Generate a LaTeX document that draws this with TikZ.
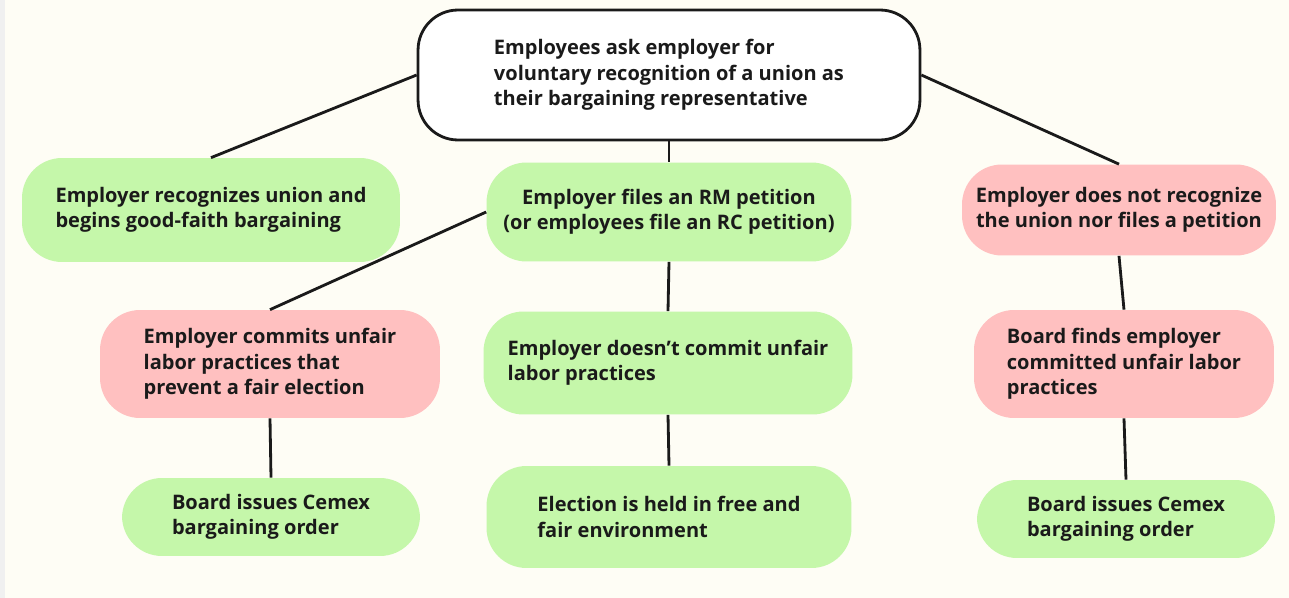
\documentclass[tikz,border=0pt]{standalone}
\usepackage{fontspec}
\setmainfont{Open Sans}[UprightFont=* Bold]
\usepackage{xcolor}

\definecolor{paper}{RGB}{254,253,245}
\definecolor{okgreen}{RGB}{197,247,170}
\definecolor{badred}{RGB}{255,192,192}
\definecolor{ink}{RGB}{26,26,26}

\begin{document}
\begin{tikzpicture}[x=0.02cm, y=-0.02cm,
    box/.style={rounded corners=0.8cm, inner sep=0pt, text=ink,
      font=\fontsize{11.4}{14.5}\selectfont},
    good/.style={box, fill=okgreen},
    bad/.style={box, fill=badred},
    link/.style={line width=1.6pt, draw=ink}]
  % Paper and page edge
  \fill[paper] (0,0) rectangle (1289,598);
  \fill[black!6] (0,0) rectangle (5,598);
  \useasboundingbox (0,0) rectangle (1289,598);

  % Question at the top
  \node[box, fill=white, draw=ink, line width=1.6pt, align=left,
    minimum width=10.04cm, minimum height=2.6cm] (ask) at (669,75)
    {Employees ask employer for\\voluntary recognition of a union as\\their bargaining representative};

  % First row of outcomes
  \node[good, align=left, minimum width=7.56cm, minimum height=2.08cm] (recog) at (211,210)
    {Employer recognizes union and\\begins good-faith bargaining};
  \node[good, align=center, minimum width=7.3cm, minimum height=1.98cm] (files) at (669,212)
    {Employer files an RM petition\\(or employees file an RC petition)};
  \node[bad, align=center, minimum width=6.28cm, minimum height=1.82cm] (refuse) at (1119,210)
    {Employer does not recognize\\the union nor files a petition};

  % Second row
  \node[bad, align=left, minimum width=6.8cm, minimum height=2.16cm] (ulp) at (270,364)
    {Employer commits unfair\\labor practices that\\prevent a fair election};
  \node[good, align=left, minimum width=7.38cm, minimum height=2.06cm] (noulp) at (668,363)
    {Employer doesn't commit unfair\\labor practices};
  \node[bad, align=left, minimum width=6.0cm, minimum height=2.16cm] (finds) at (1124,364)
    {Board finds employer\\committed unfair labor\\practices};

  % Third row
  \node[good, align=left, minimum width=5.96cm, minimum height=1.56cm] (order1) at (271,517)
    {Board issues Cemex\\bargaining order};
  \node[good, align=left, minimum width=7.3cm, minimum height=2.04cm] (vote) at (669,517)
    {Election is held in free and\\fair environment};
  \node[good, align=left, minimum width=5.96cm, minimum height=1.56cm] (order2) at (1126,519)
    {Board issues Cemex\\bargaining order};

  % Connectors
  \draw[link] (ask.west) -- (recog.north);
  \draw[link] (ask.south) -- (files.north);
  \draw[link] (ask.east) -- (refuse.north);
  \draw[link] (files.west) -- (ulp.north);
  \draw[link] (files.south) -- (noulp.north);
  \draw[link] (refuse.south) -- (finds.north);
  \draw[link] (ulp.south) -- (order1.north);
  \draw[link] (noulp.south) -- (vote.north);
  \draw[link] (finds.south) -- (order2.north);
\end{tikzpicture}
\end{document}
